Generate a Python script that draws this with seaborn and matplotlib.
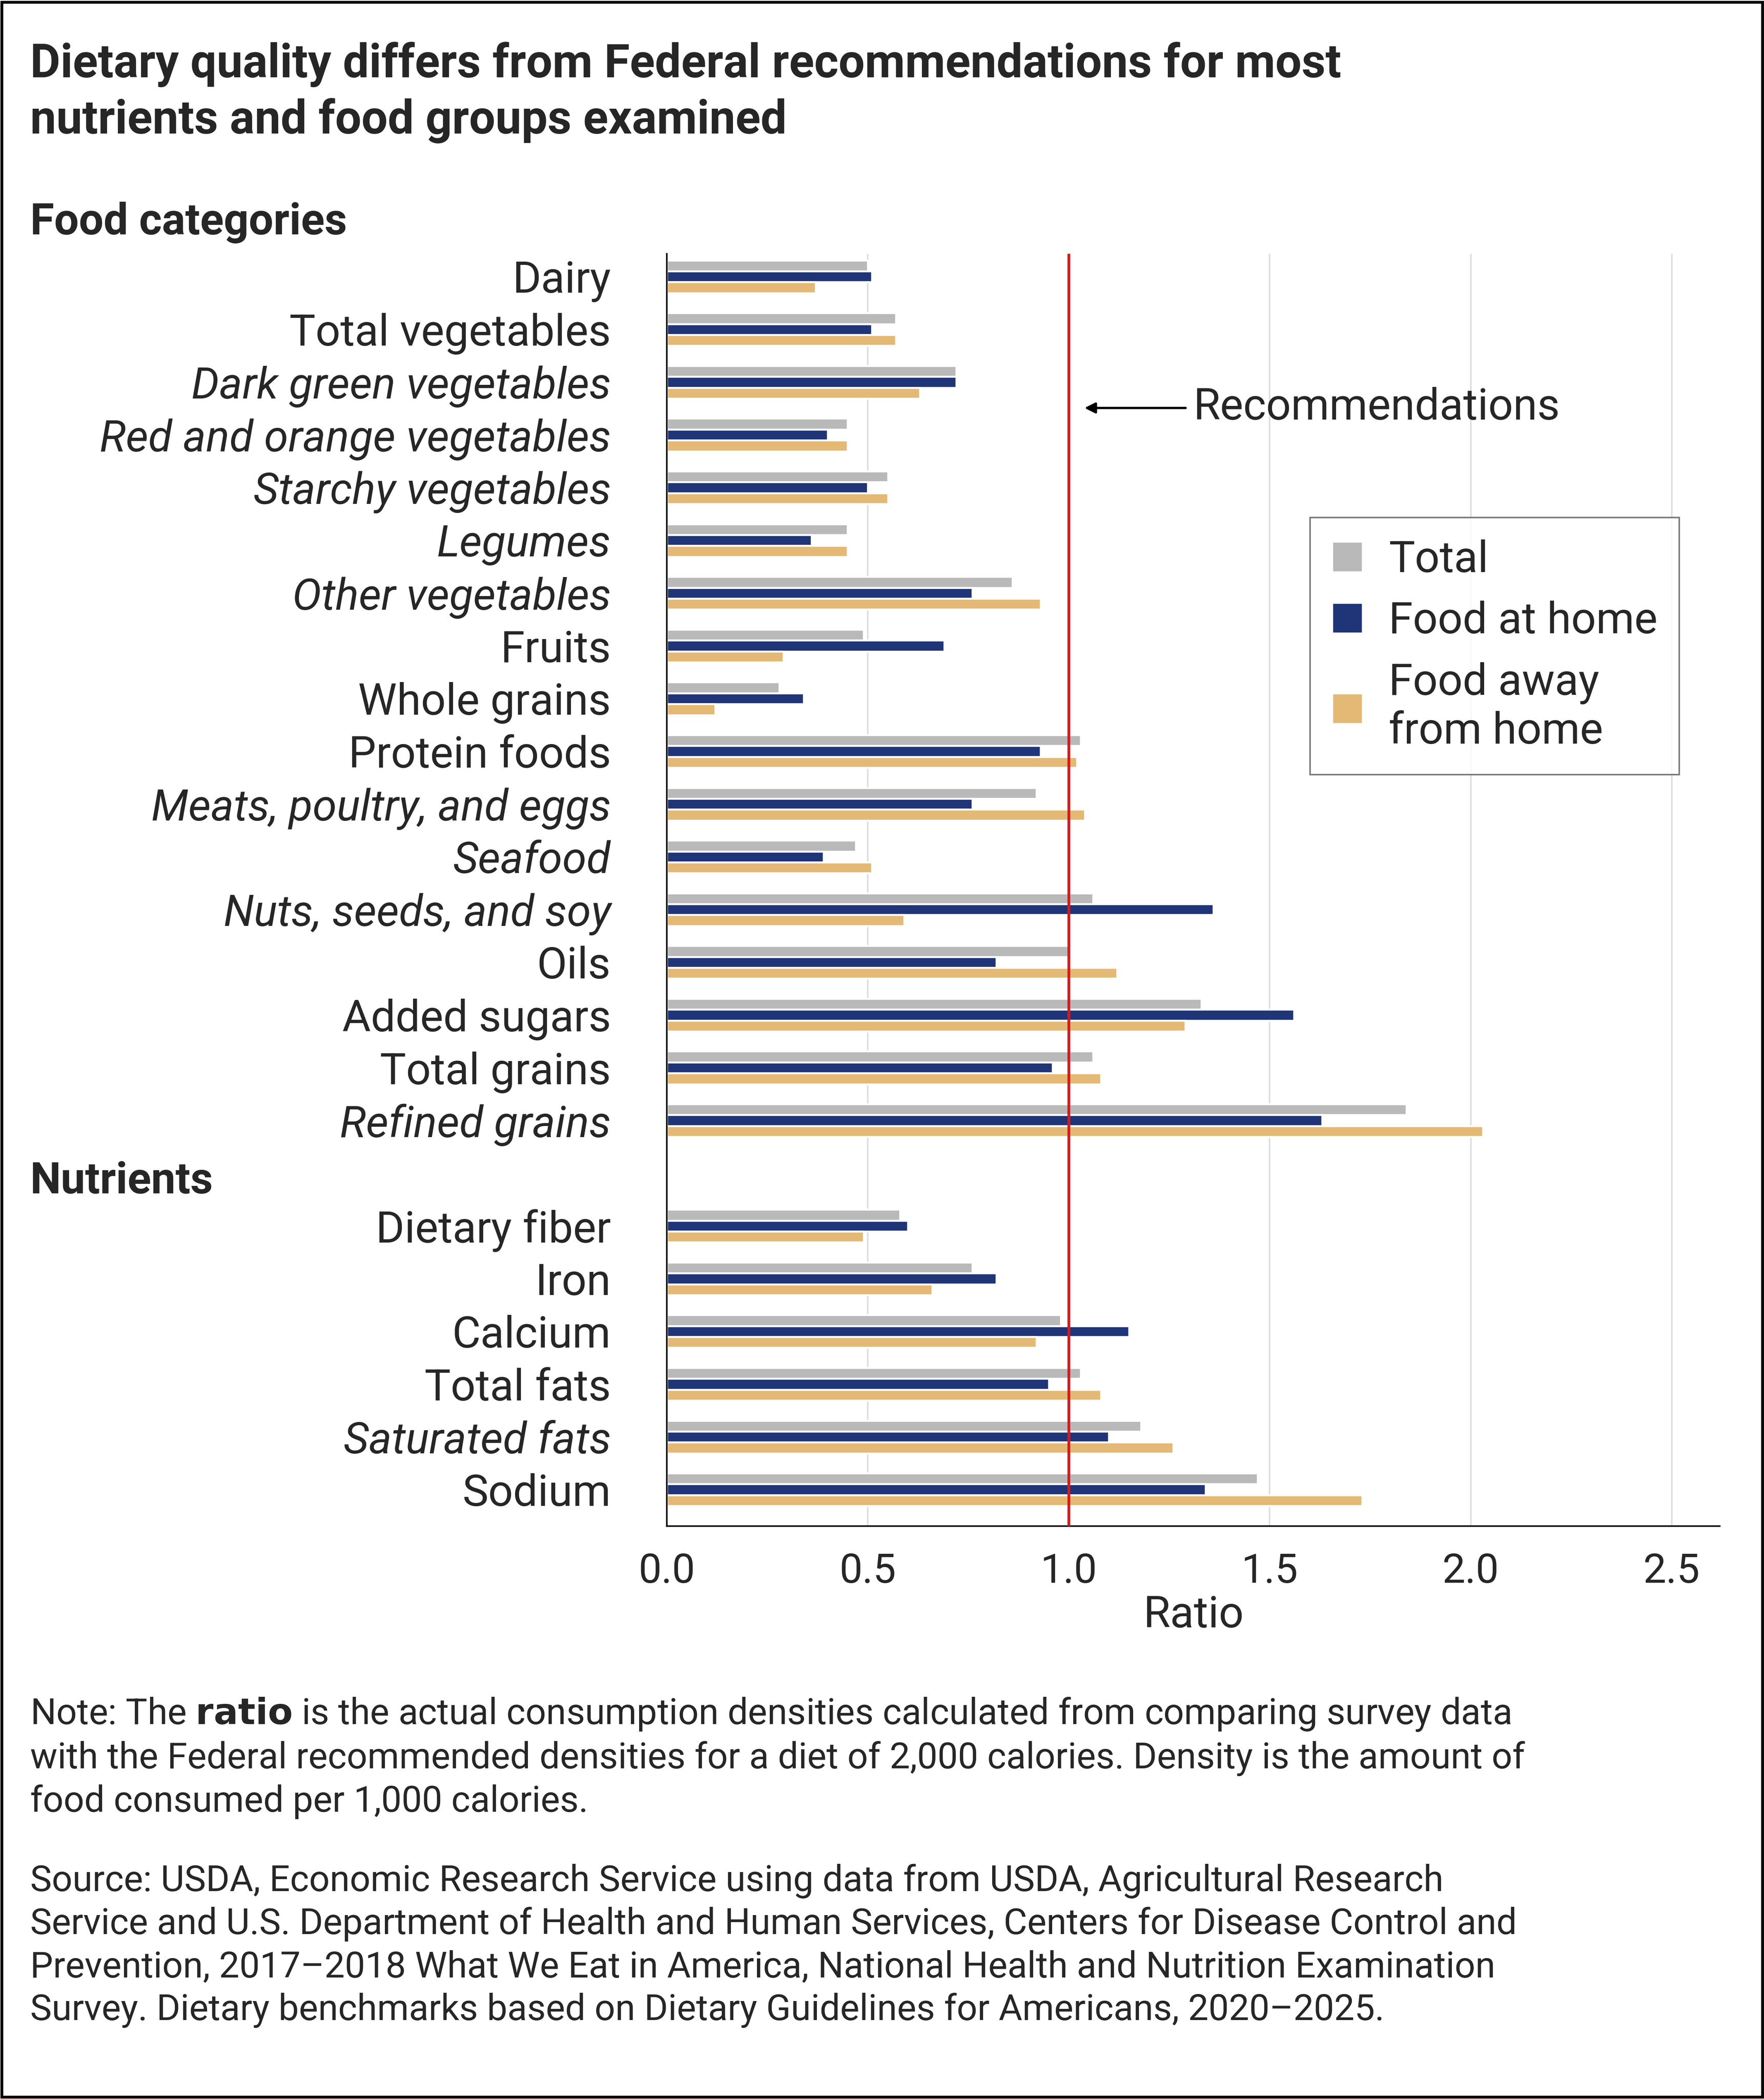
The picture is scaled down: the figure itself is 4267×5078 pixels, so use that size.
import matplotlib
matplotlib.use("Agg")
import matplotlib.pyplot as plt
import seaborn as sns
import pandas as pd
from matplotlib.patches import Rectangle

categories = ["Dairy", "Total vegetables", "Dark green vegetables", "Red and orange vegetables",
              "Starchy vegetables", "Legumes", "Other vegetables", "Fruits", "Whole grains",
              "Protein foods", "Meats, poultry, and eggs", "Seafood", "Nuts, seeds, and soy",
              "Oils", "Added sugars", "Total grains", "Refined grains", "",
              "Dietary fiber", "Iron", "Calcium", "Total fats", "Saturated fats", "Sodium"]
italic = {"Dark green vegetables", "Red and orange vegetables", "Starchy vegetables", "Legumes",
          "Other vegetables", "Meats, poultry, and eggs", "Seafood", "Nuts, seeds, and soy",
          "Refined grains", "Saturated fats"}
total = [0.50, 0.57, 0.72, 0.45, 0.55, 0.45, 0.86, 0.49, 0.28, 1.03, 0.92, 0.47, 1.06, 1.00, 1.33, 1.06, 1.84, None,
         0.58, 0.76, 0.98, 1.03, 1.18, 1.47]
home = [0.51, 0.51, 0.72, 0.40, 0.50, 0.36, 0.76, 0.69, 0.34, 0.93, 0.76, 0.39, 1.36, 0.82, 1.56, 0.96, 1.63, None,
        0.60, 0.82, 1.15, 0.95, 1.10, 1.34]
away = [0.37, 0.57, 0.63, 0.45, 0.55, 0.45, 0.93, 0.29, 0.12, 1.02, 1.04, 0.51, 0.59, 1.12, 1.29, 1.08, 2.03, None,
        0.49, 0.66, 0.92, 1.08, 1.26, 1.73]
series = ["Total", "Food at home", "Food away\nfrom home"]
colors = ["#b9b9b9", "#1f3577", "#e4b975"]

rows = []
for c, a, b, d in zip(categories, total, home, away):
    for s, v in zip(series, [a, b, d]):
        rows.append({"cat": c, "series": s, "val": (0 if v is None else v)})
df = pd.DataFrame(rows)

sns.set_style("white")
plt.rcParams['font.family'] = ['Roboto', 'DejaVu Sans']
fig = plt.figure(figsize=(4267/324, 5078/324), dpi=324)
ax = fig.add_axes([0.378, 0.273, 0.597, 0.606])
sns.barplot(data=df, y="cat", x="val", hue="series", order=categories, hue_order=series,
            palette=colors, orient="h", width=0.62, ax=ax, saturation=1, errorbar=None)
ax.set_xlim(0, 2.62)
ax.set_ylim(23.69, -0.43)
for x in [0.5, 1.5, 2.0, 2.5]:
    ax.axvline(x, color="#dddddd", lw=0.8, zorder=0)
ax.axvline(1.0, color="#d7191c", lw=1.5, zorder=5)
ax.set_xticks([0, 0.5, 1.0, 1.5, 2.0, 2.5])
ax.set_xticklabels(["0.0", "0.5", "1.0", "1.5", "2.0", "2.5"], fontsize=22)
ax.tick_params(axis="x", length=0, pad=14)
ax.set_yticks(range(len(categories)))
ax.set_yticklabels(categories, fontsize=23.5)
for t in ax.get_yticklabels():
    if t.get_text() in italic:
        t.set_style("italic")
ax.tick_params(axis="y", length=0, pad=30)
ax.set_xlabel("Ratio", fontsize=23.5, labelpad=2)
ax.set_ylabel("")
for s in ["top", "right"]:
    ax.spines[s].set_visible(False)
for s in ["left", "bottom"]:
    ax.spines[s].set_color("black")
    ax.spines[s].set_linewidth(0.8)

leg = ax.legend(loc="upper left", bbox_to_anchor=(0.59, 0.81), fontsize=23.5, frameon=True,
                fancybox=False, edgecolor="#555555", handlelength=0.7, handleheight=0.7,
                borderpad=0.5, labelspacing=0.45, handletextpad=0.6)
leg.get_frame().set_linewidth(0.8)

ax.annotate("Recommendations", xy=(1.03, 2.49), xytext=(1.31, 2.49), fontsize=23.5,
            va="center", ha="left",
            arrowprops=dict(arrowstyle="-|>", color="black", lw=1.2, mutation_scale=12))

fig.text(0.017, 0.98, "Dietary quality differs from Federal recommendations for most\nnutrients and food groups examined",
         fontsize=25, fontweight="bold", va="top", linespacing=1.3)
fig.text(0.017, 0.894, "Food categories", fontsize=23.5, fontweight="bold", va="center")
fig.text(0.017, 0.437, "Nutrients", fontsize=23.5, fontweight="bold", va="center")
fig.text(0.017, 0.192, "Note: The $\\bf{ratio}$ is the actual consumption densities calculated from comparing survey data\n"
         "with the Federal recommended densities for a diet of 2,000 calories. Density is the amount of\n"
         "food consumed per 1,000 calories.", fontsize=19.5, va="top", linespacing=1.3)
fig.text(0.017, 0.112, "Source: USDA, Economic Research Service using data from USDA, Agricultural Research\n"
         "Service and U.S. Department of Health and Human Services, Centers for Disease Control and\n"
         "Prevention, 2017–2018 What We Eat in America, National Health and Nutrition Examination\n"
         "Survey. Dietary benchmarks based on Dietary Guidelines for Americans, 2020–2025.",
         fontsize=19.5, va="top", linespacing=1.3)
fig.patches.append(Rectangle((0.001, 0.001), 0.998, 0.998, transform=fig.transFigure,
                             fill=False, edgecolor="black", lw=1.5))
fig.savefig("out.png", dpi=324)
